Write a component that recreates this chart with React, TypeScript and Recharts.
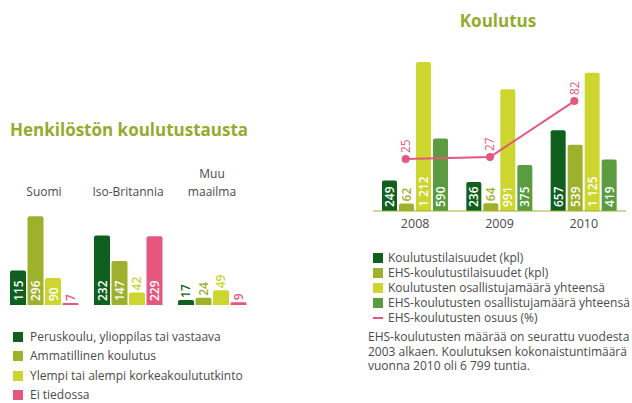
import { BarChart, Bar, ComposedChart, Line, XAxis, YAxis, LabelList } from 'recharts';

// Henkilöstön koulutustausta
const regions = ['Suomi', 'Iso-Britannia', 'Muu maailma'];
const peruskoulu = [115, 232, 17];
const ammatillinen = [296, 147, 24];
const korkeakoulu = [90, 42, 49];
const eiTiedossa = [7, 229, 9];

// Koulutus
const years = ['2008', '2009', '2010'];
const tilaisuudet = [249, 236, 657];
const ehsTilaisuudet = [62, 64, 539];
const osallistujat = [1212, 991, 1125];
const ehsOsallistujat = [590, 375, 419];
const ehsOsuus = [25, 27, 82];

const DARK = '#0f5f1e';
const OLIVE = '#9db12c';
const YELLOW = '#ccd62e';
const MID = '#5a9c3f';
const PINK = '#e5577f';
const TITLE = '#94ab2d';
const TEXT = '#4a4a4a';

const staffData = regions.map((r, i) => ({
  name: r,
  peruskoulu: peruskoulu[i],
  ammatillinen: ammatillinen[i],
  korkeakoulu: korkeakoulu[i],
  eiTiedossa: eiTiedossa[i]
}));

const trainingData = years.map((y, i) => ({
  year: y,
  tilaisuudet: tilaisuudet[i],
  ehsTilaisuudet: ehsTilaisuudet[i],
  osallistujat: osallistujat[i],
  ehsOsallistujat: ehsOsallistujat[i],
  osuus: ehsOsuus[i]
}));

const staffLegend = [
  { label: 'Peruskoulu, ylioppilas tai vastaava', color: DARK },
  { label: 'Ammatillinen koulutus', color: OLIVE },
  { label: 'Ylempi tai alempi korkeakoulututkinto', color: YELLOW },
  { label: 'Ei tiedossa', color: PINK }
];

const trainingLegend = [
  { label: 'Koulutustilaisuudet (kpl)', color: DARK, line: false },
  { label: 'EHS-koulutustilaisuudet (kpl)', color: OLIVE, line: false },
  { label: 'Koulutusten osallistujamäärä yhteensä', color: YELLOW, line: false },
  { label: 'EHS-koulutusten osallistujamäärä yhteensä', color: MID, line: false },
  { label: 'EHS-koulutusten osuus (%)', color: PINK, line: true }
];

const fmt = (v: number) => String(v).replace(/\B(?=(\d{3})+(?!\d))/g, ' ');

// value written upwards inside the bar, or above it when the bar is too short
const barLabel = (color: string) => (props: any) => {
  const { x, y, width, height, value } = props;
  const text = fmt(value);
  const len = text.length * 6.8;
  const cx = x + width / 2;
  const inside = height > len + 8;
  const ty = inside ? y + height - 4 : y - 2;
  return (
    <text
      x={cx}
      y={ty}
      transform={`rotate(-90 ${cx} ${ty})`}
      textAnchor="start"
      dominantBaseline="central"
      fill={inside ? '#fff' : color}
      fontSize={12}
      fontWeight={600}
    >
      {text}
    </text>
  );
};

const lineLabel = (props: any) => {
  const { x, y, value } = props;
  const ty = y - 6;
  return (
    <text x={x} y={ty} transform={`rotate(-90 ${x} ${ty})`} textAnchor="start" dominantBaseline="central" fill={PINK} fontSize={12}>
      {value}
    </text>
  );
};

const RegionTick = (props: any) => {
  const { x, y, payload } = props;
  const words = payload.value === 'Muu maailma' ? ['Muu', 'maailma'] : [payload.value];
  return (
    <g>
      {words.map((w: string, i: number) => (
        <text key={w} x={x} y={y + 4 - (words.length - 1 - i) * 18} textAnchor="middle" fill={TEXT} fontSize={12}>
          {w}
        </text>
      ))}
    </g>
  );
};

export default function App() {
  return (
    <div style={{ position: 'absolute', left: 0, top: 0, width: 632, height: 403, background: '#fff', overflow: 'hidden', fontFamily: '"Open Sans", sans-serif' }}>
      {/* Left title */}
      <div style={{ position: 'absolute', left: 10, top: 118, fontSize: 17, fontWeight: 700, color: TITLE, whiteSpace: 'nowrap' }}>
        Henkilöstön koulutustausta
      </div>

      <div style={{ position: 'absolute', left: 0, top: 160 }}>
        <BarChart width={265} height={160} data={staffData} margin={{ top: 0, right: 8, bottom: 15, left: 10 }} barSize={16} barGap={1.5}>
          <XAxis xAxisId="top" orientation="top" dataKey="name" height={40} interval={0} axisLine={false} tickLine={false} tick={<RegionTick />} padding={{ left: -8, right: 3 }} />
          <XAxis xAxisId="base" dataKey="name" height={0} tick={false} tickLine={false} axisLine={{ stroke: OLIVE }} />
          <YAxis hide domain={[0, 350]} />
          <Bar xAxisId="top" dataKey="peruskoulu" fill={DARK} radius={[2, 2, 0, 0]} isAnimationActive={false}>
            <LabelList dataKey="peruskoulu" content={barLabel(DARK)} />
          </Bar>
          <Bar xAxisId="top" dataKey="ammatillinen" fill={OLIVE} radius={[2, 2, 0, 0]} isAnimationActive={false}>
            <LabelList dataKey="ammatillinen" content={barLabel(OLIVE)} />
          </Bar>
          <Bar xAxisId="top" dataKey="korkeakoulu" fill={YELLOW} radius={[2, 2, 0, 0]} isAnimationActive={false}>
            <LabelList dataKey="korkeakoulu" content={barLabel(YELLOW)} />
          </Bar>
          <Bar xAxisId="top" dataKey="eiTiedossa" fill={PINK} radius={[2, 2, 0, 0]} isAnimationActive={false}>
            <LabelList dataKey="eiTiedossa" content={barLabel(PINK)} />
          </Bar>
        </BarChart>
      </div>

      {/* Left legend */}
      <div style={{ position: 'absolute', left: 13, top: 327 }}>
        {staffLegend.map((item) => (
          <div key={item.label} style={{ display: 'flex', alignItems: 'center', height: 19.5, lineHeight: '16px', fontSize: 12, color: TEXT, whiteSpace: 'nowrap' }}>
            <span style={{ width: 10, height: 10, background: item.color, marginRight: 7, display: 'inline-block' }} />
            {item.label}
          </div>
        ))}
      </div>

      {/* Right title */}
      <div style={{ position: 'absolute', left: 340, width: 316, top: 9, textAlign: 'center', fontSize: 17, fontWeight: 700, color: TITLE }}>
        Koulutus
      </div>

      <div style={{ position: 'absolute', left: 340, top: 0 }}>
        <ComposedChart width={292} height={250} data={trainingData} margin={{ top: 39, right: 6, bottom: 19, left: 33 }} barSize={15} barGap={2}>
          <XAxis dataKey="year" height={20} tickLine={false} axisLine={{ stroke: OLIVE }} tick={{ fill: TEXT, fontSize: 12.5 }} />
          <XAxis xAxisId="line" dataKey="year" hide padding={{ left: -9.5, right: 9.5 }} />
          <YAxis yAxisId="count" hide domain={[0, 1400]} />
          <YAxis yAxisId="pct" hide domain={[-26, 143]} />
          <Bar yAxisId="count" dataKey="tilaisuudet" fill={DARK} radius={[2, 2, 0, 0]} isAnimationActive={false}>
            <LabelList dataKey="tilaisuudet" content={barLabel(DARK)} />
          </Bar>
          <Bar yAxisId="count" dataKey="ehsTilaisuudet" fill={OLIVE} radius={[2, 2, 0, 0]} isAnimationActive={false}>
            <LabelList dataKey="ehsTilaisuudet" content={barLabel(OLIVE)} />
          </Bar>
          <Bar yAxisId="count" dataKey="osallistujat" fill={YELLOW} radius={[2, 2, 0, 0]} isAnimationActive={false}>
            <LabelList dataKey="osallistujat" content={barLabel(YELLOW)} />
          </Bar>
          <Bar yAxisId="count" dataKey="ehsOsallistujat" fill={MID} radius={[2, 2, 0, 0]} isAnimationActive={false}>
            <LabelList dataKey="ehsOsallistujat" content={barLabel(MID)} />
          </Bar>
          <Line
            xAxisId="line"
            yAxisId="pct"
            dataKey="osuus"
            stroke={PINK}
            strokeWidth={2}
            dot={{ r: 3, fill: PINK, stroke: PINK }}
            isAnimationActive={false}
          >
            <LabelList dataKey="osuus" content={lineLabel} />
          </Line>
        </ComposedChart>
      </div>

      {/* Right legend */}
      <div style={{ position: 'absolute', left: 373, top: 250 }}>
        {trainingLegend.map((item) => (
          <div key={item.label} style={{ display: 'flex', alignItems: 'center', height: 15, lineHeight: '15px', fontSize: 12, color: TEXT, whiteSpace: 'nowrap' }}>
            {item.line ? (
              <span style={{ width: 10, height: 2, background: item.color, marginRight: 5, display: 'inline-block' }} />
            ) : (
              <span style={{ width: 10, height: 10, background: item.color, marginRight: 5, display: 'inline-block' }} />
            )}
            {item.label}
          </div>
        ))}
      </div>

      <div style={{ position: 'absolute', left: 368, top: 330, fontSize: 12, lineHeight: '14.5px', color: TEXT, whiteSpace: 'nowrap' }}>
        EHS-koulutusten määrää on seurattu vuodesta
        <br />
        2003 alkaen. Koulutuksen kokonaistuntimäärä
        <br />
        vuonna 2010 oli 6 799 tuntia.
      </div>
    </div>
  );
}
